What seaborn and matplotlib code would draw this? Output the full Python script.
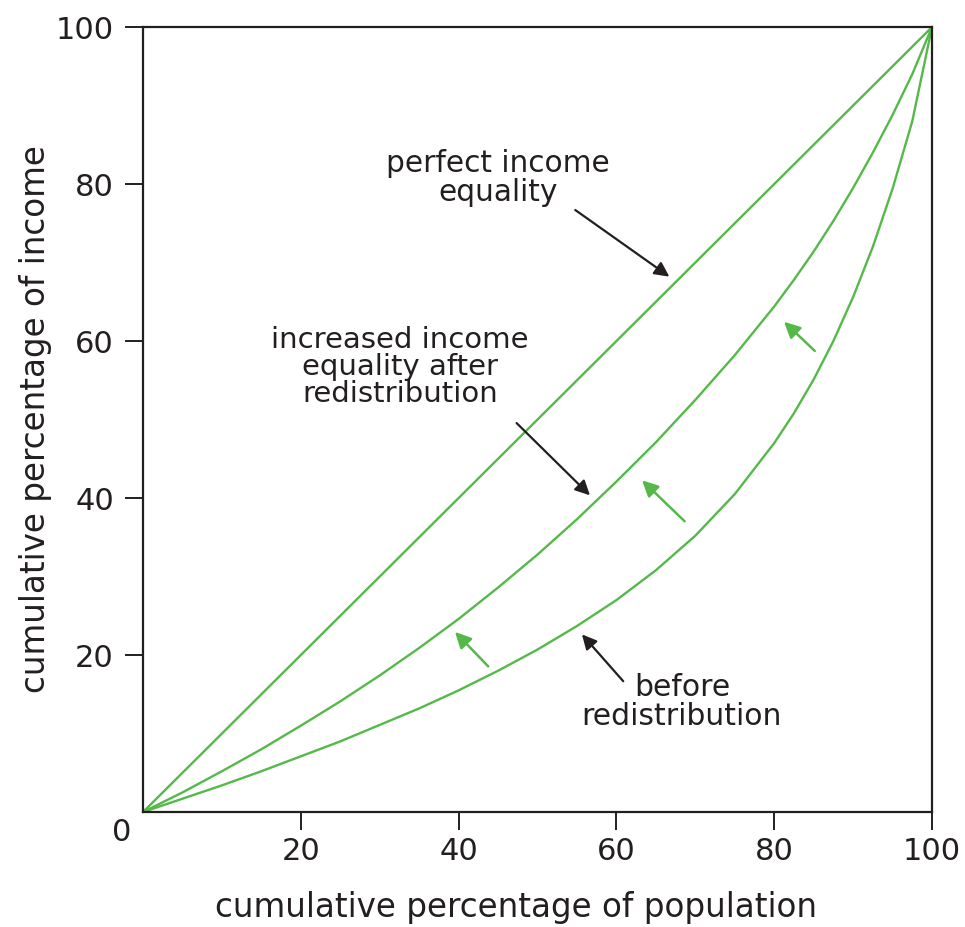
import numpy as np
import pandas as pd
import matplotlib
matplotlib.use("Agg")
import matplotlib.pyplot as plt
import seaborn as sns

# population share (x) and income share (y)
population = [0, 5, 10, 15, 20, 25, 30, 35, 40, 45, 50, 55, 60, 65, 70, 75, 80,
              82.5, 85, 87.5, 90, 92.5, 95, 97.5, 100]
perfect_equality = list(population)
after_redistribution = [0, 2.5, 5.2, 8.0, 11.0, 14.1, 17.4, 20.9, 24.6, 28.6, 32.8, 37.3,
                        42.1, 47.1, 52.5, 58.2, 64.4,
                        67.8, 71.4, 75.3, 79.5, 84.0, 88.8, 94.0, 100]
before_redistribution = [0, 1.7, 3.4, 5.2, 7.1, 9.0, 11.1, 13.2, 15.5, 18.0, 20.7, 23.7,
                         27.0, 30.8, 35.2, 40.5, 47.0,
                         50.8, 55.1, 60.0, 65.6, 72.0, 79.4, 88.0, 100]

ticks = [20, 40, 60, 80, 100]

green = "#55b94a"
ink = "#231f20"

sns.set_theme(style="white")
plt.rcParams["font.family"] = ["DejaVu Sans"]

df = pd.DataFrame({
    "population": population * 3,
    "income": perfect_equality + after_redistribution + before_redistribution,
    "curve": (["perfect"] * len(population) + ["after"] * len(population)
              + ["before"] * len(population)),
})

fig = plt.figure(figsize=(9.65, 9.27), dpi=100)
ax = fig.add_axes([0.1482, 0.124, 0.8176, 0.8468])

sns.lineplot(data=df, x="population", y="income", units="curve", estimator=None,
             color=green, linewidth=1.7, sort=False, ax=ax)

ax.set_xlim(0, 100)
ax.set_ylim(0, 100)
ax.set_xticks(ticks)
ax.set_yticks(ticks)
ax.set_xticklabels([str(t) for t in ticks])
ax.set_yticklabels([str(t) for t in ticks])
ax.tick_params(axis="both", direction="out", length=13, width=1.4, color=ink,
               labelsize=22, labelcolor=ink, bottom=True, left=True)
ax.tick_params(axis="x", pad=5)
ax.tick_params(axis="y", pad=8)
for s in ax.spines.values():
    s.set_color(ink)
    s.set_linewidth(1.6)

ax.text(-1.5, -0.8, "0", ha="right", va="top", fontsize=22, color=ink)

ax.set_xlabel("cumulative percentage of population", fontsize=23.5, color=ink)
ax.set_ylabel("cumulative percentage of income", fontsize=23.5, color=ink)
ax.xaxis.set_label_coords(0.473, -0.100)
ax.yaxis.set_label_coords(-0.115, 0.5)

# annotations with black arrows
black_arrow = dict(arrowstyle="-|>", color=ink, lw=1.6, mutation_scale=22)
ax.annotate("", xy=(67.0, 68.0), xytext=(54.5, 76.9), arrowprops=black_arrow)
ax.annotate("", xy=(56.9, 40.1), xytext=(47.1, 49.8), arrowprops=black_arrow)
ax.annotate("", xy=(55.4, 22.9), xytext=(61.1, 16.4), arrowprops=black_arrow)

ax.text(45.0, 80.8, "perfect income\nequality", ha="center", va="center",
        fontsize=21.3, color=ink, linespacing=1.0)
ax.text(32.6, 56.7, "increased income\nequality after\nredistribution", ha="center",
        va="center", fontsize=21, color=ink, linespacing=0.95)
ax.text(68.3, 14.0, "before\nredistribution", ha="center", va="center",
        fontsize=21.5, color=ink, linespacing=1.0)

# green arrows showing the shift of the curve
green_arrow = dict(arrowstyle="-|>", color=green, lw=1.8, mutation_scale=24)
ax.annotate("", xy=(39.3, 23.2), xytext=(44.0, 18.3), arrowprops=green_arrow)
ax.annotate("", xy=(63.0, 42.5), xytext=(68.9, 36.8), arrowprops=green_arrow)
ax.annotate("", xy=(81.0, 62.7), xytext=(85.4, 58.5), arrowprops=green_arrow)

fig.savefig("out.png", dpi=100)
